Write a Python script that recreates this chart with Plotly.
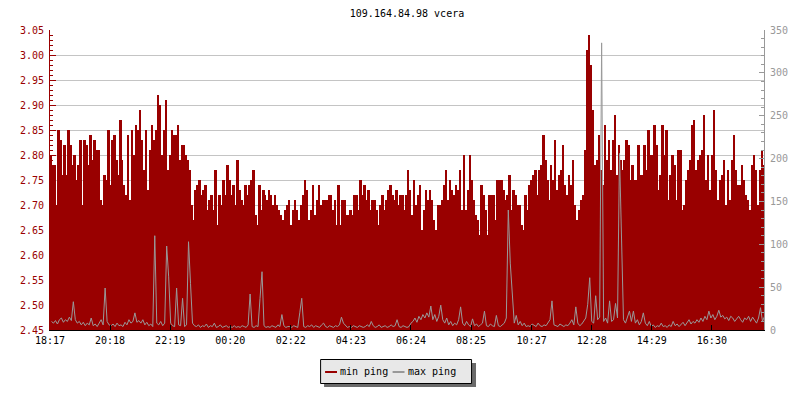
import plotly.graph_objects as go

# ---------------- data ----------------
title_text = "109.164.84.98 vcera"
start_time = "18:17"
bin_minutes = 4
tick_labels = ["18:17", "20:18", "22:19", "00:20", "02:22", "04:23",
               "06:24", "08:25", "10:27", "12:28", "14:29", "16:30"]
series_names = ["min ping", "max ping"]

# min ping (left axis, ms) - 4 minute bins, six 4-hour blocks
min_ping_1 = [2.80, 2.78, 2.78, 2.70, 2.85, 2.83, 2.76, 2.82, 2.76, 2.85,
              2.82, 2.78, 2.80, 2.75, 2.78, 2.83, 2.70, 2.83, 2.82, 2.78,
              2.84, 2.79, 2.83, 2.81, 2.81, 2.71, 2.70, 2.76, 2.75, 2.85,
              2.74, 2.83, 2.84, 2.79, 2.76, 2.87, 2.79, 2.74, 2.72, 2.84,
              2.71, 2.85, 2.80, 2.86, 2.85, 2.89, 2.83, 2.77, 2.85, 2.73,
              2.81, 2.86, 2.83, 2.85, 2.92, 2.90, 2.80, 2.85, 2.91, 2.77]
min_ping_2 = [2.80, 2.85, 2.84, 2.84, 2.86, 2.79, 2.82, 2.82, 2.80, 2.79,
              2.77, 2.70, 2.67, 2.73, 2.74, 2.75, 2.72, 2.73, 2.74, 2.69,
              2.71, 2.72, 2.69, 2.77, 2.66, 2.72, 2.70, 2.75, 2.72, 2.78,
              2.75, 2.72, 2.74, 2.70, 2.79, 2.73, 2.71, 2.70, 2.74, 2.72,
              2.74, 2.75, 2.77, 2.68, 2.66, 2.74, 2.69, 2.73, 2.72, 2.71,
              2.73, 2.72, 2.70, 2.72, 2.70, 2.69, 2.68, 2.67, 2.69, 2.70]
min_ping_3 = [2.71, 2.66, 2.69, 2.71, 2.69, 2.67, 2.70, 2.72, 2.75, 2.73,
              2.67, 2.69, 2.74, 2.68, 2.71, 2.74, 2.70, 2.71, 2.71, 2.71,
              2.72, 2.72, 2.69, 2.71, 2.66, 2.74, 2.66, 2.71, 2.71, 2.68,
              2.68, 2.69, 2.68, 2.72, 2.72, 2.69, 2.75, 2.72, 2.74, 2.71,
              2.73, 2.69, 2.71, 2.71, 2.69, 2.66, 2.70, 2.72, 2.69, 2.71,
              2.73, 2.74, 2.72, 2.71, 2.73, 2.70, 2.72, 2.72, 2.69, 2.72]
min_ping_4 = [2.77, 2.73, 2.68, 2.75, 2.70, 2.72, 2.74, 2.65, 2.69, 2.73,
              2.71, 2.73, 2.71, 2.67, 2.65, 2.70, 2.70, 2.71, 2.74, 2.77,
              2.71, 2.75, 2.73, 2.72, 2.74, 2.73, 2.77, 2.69, 2.80, 2.69,
              2.73, 2.80, 2.75, 2.71, 2.68, 2.67, 2.64, 2.74, 2.72, 2.69,
              2.64, 2.72, 2.72, 2.72, 2.67, 2.75, 2.75, 2.75, 2.73, 2.71,
              2.72, 2.76, 2.69, 2.73, 2.72, 2.70, 2.70, 2.66, 2.65, 2.72]
min_ping_5 = [2.69, 2.74, 2.75, 2.76, 2.77, 2.72, 2.77, 2.78, 2.84, 2.79,
              2.75, 2.71, 2.78, 2.75, 2.83, 2.73, 2.76, 2.77, 2.82, 2.74,
              2.72, 2.76, 2.74, 2.79, 2.70, 2.67, 2.69, 2.71, 2.72, 2.81,
              3.01, 3.04, 2.98, 2.89, 2.78, 2.79, 2.84, 2.77, 2.74, 2.86,
              2.79, 2.83, 2.77, 2.83, 2.88, 2.76, 2.82, 2.79, 2.77, 2.79,
              2.83, 2.82, 2.75, 2.78, 2.75, 2.75, 2.82, 2.76, 2.76, 2.82]
min_ping_6 = [2.77, 2.85, 2.80, 2.80, 2.86, 2.82, 2.73, 2.76, 2.86, 2.80,
              2.85, 2.71, 2.76, 2.80, 2.78, 2.71, 2.81, 2.81, 2.69, 2.70,
              2.75, 2.77, 2.79, 2.86, 2.87, 2.77, 2.79, 2.80, 2.81, 2.88,
              2.75, 2.80, 2.73, 2.80, 2.89, 2.77, 2.71, 2.75, 2.76, 2.79,
              2.70, 2.77, 2.71, 2.79, 2.84, 2.77, 2.74, 2.74, 2.78, 2.75,
              2.72, 2.71, 2.69, 2.78, 2.80, 2.77, 2.70, 2.77, 2.81, 2.78]

# max ping (right axis, ms)
max_ping_1 = [10, 8, 11, 7, 12, 14, 9, 12, 10, 15, 11, 33, 12, 8, 10, 6, 9, 5, 8, 6,
              14, 5, 7, 4, 8, 12, 6, 49, 10, 6, 5, 7, 4, 8, 5, 6, 4, 9, 6, 12,
              8, 10, 20, 9, 11, 8, 12, 6, 9, 5, 7, 4, 110, 8, 6, 10, 5, 8, 98, 62]
max_ping_2 = [8, 5, 4, 49, 6, 5, 37, 4, 6, 103, 54, 8, 5, 4, 6, 3, 5, 4, 7, 3,
              5, 4, 8, 3, 4, 6, 3, 4, 5, 3, 4, 3, 5, 3, 4, 3, 5, 4, 3, 6,
              42, 4, 3, 5, 4, 37, 68, 5, 3, 4, 3, 5, 4, 3, 6, 4, 18, 5, 3, 4]
max_ping_3 = [4, 3, 5, 4, 3, 20, 37, 4, 3, 5, 4, 6, 3, 5, 4, 3, 6, 8, 4, 3,
              5, 4, 3, 5, 4, 6, 15, 8, 5, 3, 4, 3, 5, 4, 3, 5, 4, 3, 4, 6,
              4, 10, 5, 3, 4, 6, 3, 4, 5, 3, 4, 6, 4, 5, 12, 4, 3, 5, 4, 3]
max_ping_4 = [4, 8, 10, 14, 9, 16, 12, 18, 14, 20, 15, 28, 12, 18, 10, 16, 29, 12, 8, 14,
              6, 10, 5, 8, 6, 12, 27, 8, 5, 10, 6, 4, 13, 5, 7, 4, 6, 8, 22, 5,
              4, 7, 5, 4, 17, 5, 4, 6, 8, 14, 140, 78, 43, 8, 17, 6, 10, 5, 8, 4]
max_ping_5 = [5, 4, 7, 5, 4, 8, 5, 4, 6, 5, 8, 12, 34, 6, 5, 4, 7, 5, 4, 6,
              5, 8, 12, 6, 27, 8, 5, 7, 10, 14, 30, 61, 10, 8, 40, 12, 15, 335, 10, 14,
              8, 34, 10, 12, 31, 14, 206, 114, 12, 8, 15, 22, 10, 22, 8, 12, 6, 10, 20, 8]
max_ping_6 = [5, 10, 4, 6, 3, 5, 4, 8, 4, 5, 3, 6, 4, 10, 5, 7, 4, 6, 9, 5,
              8, 12, 7, 10, 8, 12, 9, 14, 10, 16, 12, 22, 14, 18, 12, 16, 23, 15, 17, 13,
              15, 11, 16, 14, 10, 13, 16, 12, 9, 14, 12, 16, 10, 15, 12, 8, 14, 26, 10, 16]

left_ticks = [2.45, 2.50, 2.55, 2.60, 2.65, 2.70, 2.75, 2.80, 2.85, 2.90, 2.95, 3.00, 3.05]
right_ticks = [0, 50, 100, 150, 200, 250, 300, 350]

# ---------------- assemble ----------------
min_ping = min_ping_1 + min_ping_2 + min_ping_3 + min_ping_4 + min_ping_5 + min_ping_6
max_ping = max_ping_1 + max_ping_2 + max_ping_3 + max_ping_4 + max_ping_5 + max_ping_6


def to_min(label):
    h, m = label.split(":")
    return int(h) * 60 + int(m)


t0 = to_min(start_time)
tick_vals = [(to_min(t) - t0) % 1440 for t in tick_labels]
n = len(min_ping)
x_start = [i * bin_minutes for i in range(n)]
x_center = [x + bin_minutes / 2 for x in x_start]
# line vertices placed on pixel centres (1 minute = 0.5 px) for a crisp 1px grey line
x_line = [x + 3 for x in x_start]

RED = "#990000"
GRAY = "#999999"
FONT = "DejaVu Sans Mono"
W, H = 800, 400
L, R, T, B = 50, 31, 30, 70
PW, PH = W - L - R, H - T - B


def px(xp):
    return (xp - L) / PW


def py(yp):
    return (H - B - yp) / PH


fig = go.Figure()
fig.add_trace(go.Bar(x=x_center, y=min_ping, width=bin_minutes, name=series_names[0],
                     marker=dict(color=RED, line=dict(width=0)), showlegend=False))
fig.add_trace(go.Scatter(x=x_line, y=max_ping, yaxis="y2", mode="lines", name=series_names[1],
                         line=dict(color=GRAY, width=1), showlegend=False))

fig.update_layout(
    width=W, height=H,
    margin=dict(l=L, r=R, t=T, b=B, pad=0),
    paper_bgcolor="white", plot_bgcolor="white",
    bargap=0, showlegend=False,
    title=dict(text=title_text, x=0.5, xref="paper", xanchor="center",
               y=1 - 13.5 / H, yref="container", yanchor="middle",
               font=dict(family=FONT, size=10, color="black")),
    xaxis=dict(range=[0, PW * 2], tickmode="array", tickvals=tick_vals, ticktext=tick_labels,
               ticks="inside", ticklen=5, tickcolor="black", showline=True, linecolor="black",
               linewidth=1, showgrid=False, zeroline=False, ticklabelstandoff=1,
               tickfont=dict(family=FONT, size=10, color="black")),
    yaxis=dict(range=[2.45, 3.05], tickmode="array", tickvals=left_ticks,
               ticktext=["%.2f" % v for v in left_ticks],
               ticks="inside", ticklen=6, tickcolor=RED, showline=True, linecolor=RED,
               linewidth=1, showgrid=True, gridcolor="#c4c4c4", gridwidth=1, zeroline=False,
               ticklabelstandoff=3,
               tickfont=dict(family=FONT, size=10, color=RED),
               minor=dict(tick0=2.45, dtick=0.01, ticks="inside", ticklen=3,
                          tickcolor=RED, showgrid=False)),
    yaxis2=dict(range=[0, 350], overlaying="y", side="right", tickmode="array",
                tickvals=right_ticks, ticks="inside", ticklen=5, tickcolor=GRAY,
                showline=True, linecolor=GRAY, linewidth=1, showgrid=False, zeroline=False,
                ticklabelstandoff=3,
                tickfont=dict(family=FONT, size=10, color=GRAY),
                minor=dict(tick0=0, dtick=10, ticks="inside", ticklen=3, tickcolor=GRAY,
                           showgrid=False)),
)

# custom legend box (with drop shadow) like the original
shapes = [
    dict(type="rect", xref="paper", yref="paper", x0=px(326), x1=px(479), y0=py(363), y1=py(387),
         fillcolor="#6a6a6a", line=dict(width=0)),
    dict(type="rect", xref="paper", yref="paper", x0=px(322.5), x1=px(474.5), y0=py(359.5), y1=py(383.5),
         fillcolor="#e8e8e8", line=dict(color="black", width=1)),
    dict(type="line", xref="paper", yref="paper", x0=px(327), x1=px(339), y0=py(372), y1=py(372),
         line=dict(color=RED, width=2)),
    dict(type="line", xref="paper", yref="paper", x0=px(395), x1=px(407), y0=py(372), y1=py(372),
         line=dict(color=GRAY, width=2)),
]
fig.update_layout(shapes=shapes)
fig.add_annotation(x=px(340), y=py(371), xref="paper", yref="paper", text=series_names[0],
                   showarrow=False, xanchor="left", yanchor="middle",
                   font=dict(family=FONT, size=10, color="black"))
fig.add_annotation(x=px(408), y=py(371), xref="paper", yref="paper", text=series_names[1],
                   showarrow=False, xanchor="left", yanchor="middle",
                   font=dict(family=FONT, size=10, color="black"))

fig.write_html("out.html", config={"displayModeBar": False},
               post_script="document.body.style.margin='0px';")
